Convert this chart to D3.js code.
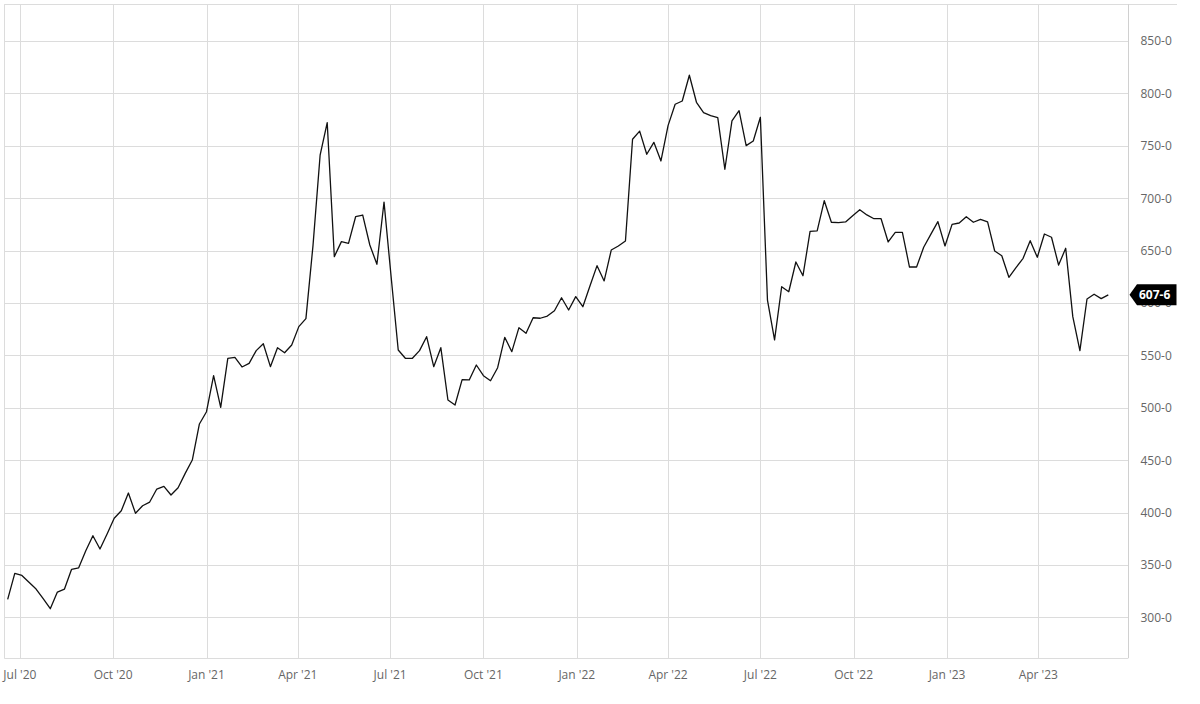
<!DOCTYPE html>
<html>
<head>
<meta charset="utf-8">
<script src="https://cdn.jsdelivr.net/npm/d3@7"></script>
<style>
  html, body { margin: 0; padding: 0; background: #fff; }
  svg { display: block; font-family: "Open Sans", "Noto Sans", sans-serif; }
</style>
</head>
<body>
<svg id="chart" width="1200" height="704"></svg>
<script>
// ---- data (weekly closes, cents/bushel) ----
const startDate = "2020-06-19";   // first weekly observation
const prices = [
  317.2, 342, 340, 333.4, 327, 317.8, 308.2, 324.1, 327, 345.8,
  347.3, 363.6, 377.9, 365.2, 379.5, 394.5, 401.7, 418.6, 399.3, 406.5,
  410, 422.4, 425, 416.7, 423.7, 437.4, 450.1, 484.5, 496.2, 530.6,
  500.4, 547.2, 548.1, 538.9, 542.4, 554.5, 561.1, 539.2, 557.3, 552.5,
  559.9, 577.4, 585, 655, 741, 772, 644.2, 658.5, 656.9, 682.3,
  683.9, 655.3, 636.9, 696.3, 625, 555.1, 547.2, 547.2, 554.5, 567.8,
  539.2, 557.3, 507.4, 502.6, 526.8, 526.5, 540.8, 530.6, 525.8, 538.2,
  567.2, 553.5, 576.4, 571, 585.9, 585.4, 587.5, 592.6, 605, 593.3,
  606, 596.4, 616.2, 635.6, 621, 650.5, 654.4, 659.1, 756.2, 764,
  741.9, 753.3, 735.5, 769.2, 789.6, 792.7, 817.3, 791.5, 781.6, 778.7,
  776.8, 727.6, 773.7, 783.5, 750.1, 754.6, 777.2, 602.8, 564.7, 615.5,
  610.7, 639.1, 626, 668.4, 668.7, 697.6, 677, 676.6, 677.3, 683.3,
  689, 684, 680.4, 680.4, 658.2, 667.4, 667.4, 634.3, 634.3, 653.1,
  665.5, 677.6, 654.4, 675, 676.3, 682.3, 677, 679.8, 677.3, 649.6,
  645.1, 624.5, 633.7, 642.6, 659.4, 643.6, 665.8, 662.7, 636.2, 652.2,
  586.9, 554.5, 603.8, 608.3, 604.1, 607.75
];
const yTicks = [300, 350, 400, 450, 500, 550, 600, 650, 700, 750, 800, 850];
const xTickLabels = ["Jul '20","Oct '20","Jan '21","Apr '21","Jul '21","Oct '21","Jan '22","Apr '22","Jul '22","Oct '22","Jan '23","Apr '23"];

// ---- build series ----
const t0 = new Date(startDate + "T00:00:00Z");
const series = prices.map((v, i) => ({ date: d3.utcWeek.offset(t0, i) , value: v }));
// utcWeek.offset keeps weekday when starting from arbitrary date? ensure exact 7-day steps
series.forEach((d, i) => { d.date = new Date(t0.getTime() + i * 7 * 864e5); });

// ---- layout ----
const L = 4.3, R = 1128, T = 4.3, B = 658.3;
const svg = d3.select("#chart");

const x = d3.scaleUtc()
  .domain([new Date(Date.UTC(2020, 5, 15, 16)), new Date(Date.UTC(2023, 5, 28, 10))])
  .range([L, R]);
const y = d3.scaleLinear().domain([260.9, 885]).range([B, T]);

const xTicks = d3.utcMonth.every(3).range(new Date(Date.UTC(2020, 6, 1)), new Date(Date.UTC(2023, 4, 1)));
const fmtX = d3.utcFormat("%b '%y");

const gridColor = "#dcdcdc";
const textColor = "#666";

// horizontal gridlines
svg.append("g").selectAll("line").data(yTicks).join("line")
  .attr("x1", L).attr("x2", R)
  .attr("y1", d => Math.round(y(d)) + 0.5).attr("y2", d => Math.round(y(d)) + 0.5)
  .attr("stroke", gridColor).attr("stroke-width", 1);

// vertical gridlines
svg.append("g").selectAll("line").data(xTicks).join("line")
  .attr("x1", d => Math.round(x(d)) + 0.5).attr("x2", d => Math.round(x(d)) + 0.5)
  .attr("y1", T).attr("y2", B)
  .attr("stroke", gridColor).attr("stroke-width", 1);

// frame
const frame = svg.append("g").attr("stroke", gridColor).attr("stroke-width", 1).attr("fill", "none");
frame.append("line").attr("x1", L).attr("x2", 1177).attr("y1", 4.5).attr("y2", 4.5);
frame.append("line").attr("x1", 4.5).attr("x2", 4.5).attr("y1", T).attr("y2", B);
frame.append("line").attr("x1", L).attr("x2", R).attr("y1", 658.5).attr("y2", 658.5);
frame.append("line").attr("x1", 1128.5).attr("x2", 1128.5).attr("y1", T).attr("y2", B).attr("stroke", "#d0d0d0");

// x labels
svg.append("g").selectAll("text").data(xTicks).join("text")
  .attr("x", d => x(d)).attr("y", 674)
  .attr("text-anchor", "middle").attr("dominant-baseline", "central")
  .attr("font-size", 12).attr("fill", textColor)
  .text((d, i) => xTickLabels[i] || fmtX(d));

// y labels
svg.append("g").selectAll("text").data(yTicks).join("text")
  .attr("x", 1140.5).attr("y", d => y(d))
  .attr("dominant-baseline", "central")
  .attr("font-size", 12).attr("fill", textColor)
  .text(d => d + "-0");

// price line
const line = d3.line().x(d => x(d.date)).y(d => y(d.value));
svg.append("path").datum(series)
  .attr("d", line)
  .attr("fill", "none").attr("stroke", "#111").attr("stroke-width", 1.3)
  .attr("stroke-linejoin", "round");

// last price marker
const last = series[series.length - 1];
const ly = y(last.value);
const fmtPrice = v => Math.floor(v) + "-" + Math.round((v - Math.floor(v)) * 8);
svg.append("path")
  .attr("d", `M1129.5,${ly} L1137,${ly - 10.5} L1176.5,${ly - 10.5} L1176.5,${ly + 10.5} L1137,${ly + 10.5} Z`)
  .attr("fill", "#000");
svg.append("text")
  .attr("x", 1139).attr("y", ly)
  .attr("dominant-baseline", "central")
  .attr("font-size", 12).attr("font-weight", "bold").attr("fill", "#fff")
  .text(fmtPrice(last.value));
</script>
</body>
</html>
